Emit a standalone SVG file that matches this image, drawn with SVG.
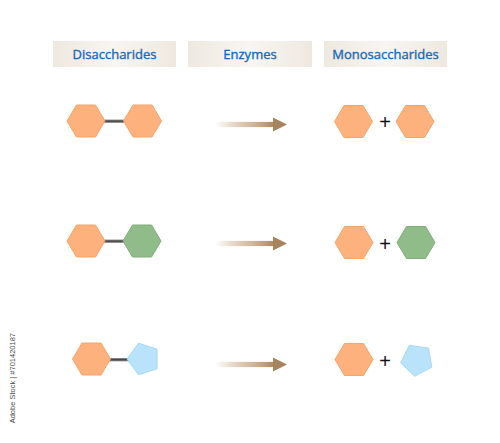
<svg xmlns="http://www.w3.org/2000/svg" width="500" height="443" viewBox="0 0 500 443">
  <defs>
    <linearGradient id="hdr" x1="0" y1="0" x2="1" y2="0">
      <stop offset="0" stop-color="#eee8df"/>
      <stop offset="0.5" stop-color="#f8f6f2"/>
      <stop offset="1" stop-color="#eee8df"/>
    </linearGradient>
    <linearGradient id="arr" x1="0" y1="0" x2="1" y2="0">
      <stop offset="0" stop-color="#b8936b" stop-opacity="0"/>
      <stop offset="0.6" stop-color="#c8a888" stop-opacity="0.8"/>
      <stop offset="1" stop-color="#a8845e"/>
    </linearGradient>
    <linearGradient id="bond" x1="0" y1="0" x2="0" y2="1">
      <stop offset="0" stop-color="#9a9a9a"/>
      <stop offset="0.5" stop-color="#3e3e3e"/>
      <stop offset="1" stop-color="#9a9a9a"/>
    </linearGradient>
    <polygon id="hex" points="-19,0 -9.5,-16 9.5,-16 19,0 9.5,16 -9.5,16"/>
    <polygon id="pent" points="-16.6,0 -5.1,-15.8 13.4,-9.8 13.4,9.8 -5.1,15.8"/>
    <g id="arrow">
      <rect x="0" y="-2.6" width="60" height="5.2" fill="url(#arr)"/>
      <polygon points="58,-7 72,0 58,7" fill="#a8845e"/>
    </g>
  </defs>
  <style>
    .hdr { fill: url(#hdr); }
    .ht { font-family: "Open Sans", "Liberation Sans", sans-serif; font-size: 13px; fill: #1769b8; stroke: #1769b8; stroke-width: 0.35; text-anchor: middle; }
    .or { fill: #fdb17c; stroke: #f7a468; stroke-width: 1; }
    .gr { fill: #8fbc89; stroke: #80ad7a; stroke-width: 1; }
    .bl { fill: #b9e3fb; stroke: #a6d8f5; stroke-width: 1; }
    .plus { font-family: "Liberation Sans", sans-serif; font-size: 20px; fill: #111; text-anchor: middle; }
    .id { font-family: "Liberation Sans", sans-serif; font-size: 7.5px; fill: #4a4a4a; text-anchor: end; }
  </style>
  <rect width="500" height="443" fill="#ffffff"/>

  <g id="header-disaccharides">
    <rect class="hdr" x="53" y="41" width="123" height="26"/>
    <text class="ht" x="114.5" y="58.5">Disaccharides</text>
  </g>
  <g id="header-enzymes">
    <rect class="hdr" x="188" y="41" width="124" height="26"/>
    <text class="ht" x="250" y="58.5">Enzymes</text>
  </g>
  <g id="header-monosaccharides">
    <rect class="hdr" x="324" y="41" width="123" height="26"/>
    <text class="ht" x="385.5" y="58.5">Monosaccharides</text>
  </g>

  <g id="connectors">
    <rect x="104" y="119.5" width="20" height="3.4" fill="url(#bond)"/>
    <rect x="104" y="239.5" width="20" height="3.4" fill="url(#bond)"/>
    <rect x="109" y="358" width="20" height="3.4" fill="url(#bond)"/>
    <use href="#arrow" x="215" y="124.5"/>
    <use href="#arrow" x="215" y="243.5"/>
    <use href="#arrow" x="215" y="364.5"/>
  </g>

  <g id="row1-disaccharide">
    <use href="#hex" class="or" x="86" y="121"/>
    <use href="#hex" class="or" x="142.5" y="121"/>
  </g>
  <g id="row1-products">
    <use href="#hex" class="or" x="353.5" y="121.5"/>
    <text class="plus" x="385" y="129">+</text>
    <use href="#hex" class="or" x="415" y="121.5"/>
  </g>

  <g id="row2-disaccharide">
    <use href="#hex" class="or" x="86" y="241"/>
    <use href="#hex" class="gr" x="142" y="241"/>
  </g>
  <g id="row2-products">
    <use href="#hex" class="or" x="354" y="242.5"/>
    <text class="plus" x="385" y="250.5">+</text>
    <use href="#hex" class="gr" x="416" y="242.5"/>
  </g>

  <g id="row3-disaccharide">
    <use href="#hex" class="or" x="91.5" y="359"/>
    <use href="#pent" class="bl" x="143.6" y="359"/>
  </g>
  <g id="row3-products">
    <use href="#hex" class="or" x="354" y="359.5"/>
    <text class="plus" x="385" y="367.5">+</text>
    <polygon class="bl" points="400.7,362.9 409.3,345.4 428.5,348.1 431.8,367.2 414.7,376.3"/>
  </g>

  <text class="id" transform="translate(14.5,333) rotate(-90)">Adobe Stock | #701420187</text>
</svg>
